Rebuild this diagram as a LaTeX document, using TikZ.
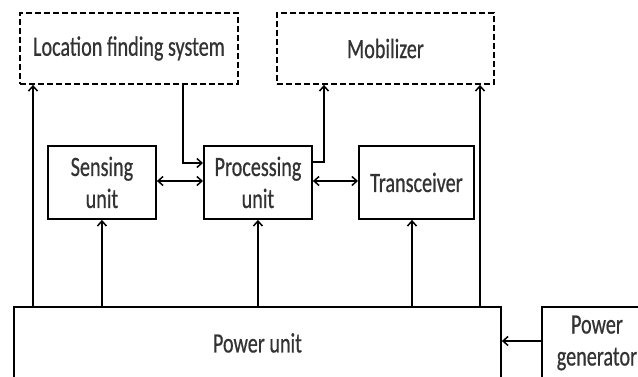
\documentclass[tikz,border=0pt]{standalone}
\usepackage{fontspec}
\newfontfamily\cf{Carlito}[FakeStretch=0.72,FakeBold=0.6]
\usetikzlibrary{arrows.meta}
\begin{document}
\begin{tikzpicture}[x=1pt,y=-1pt,
  lw/.style={line width=1.9pt},
  box/.style={draw,lw,rectangle,inner sep=0pt,anchor=north west,align=center,
     font=\cf\fontsize{28}{32}\selectfont,text=black!80},
  dbox/.style={box,dash pattern=on 6pt off 3pt},
  conn/.style={lw,-{Straight Barb[length=5pt,width=9pt,line width=1.5pt]}},
  bconn/.style={lw,{Straight Barb[length=5pt,width=9pt,line width=1.5pt]}-{Straight Barb[length=5pt,width=9pt,line width=1.5pt]}}]
\useasboundingbox (0,0) rectangle (638,376);
\clip (0,0) rectangle (638,376);
\node[dbox,minimum width=218pt,minimum height=71pt] (loc) at (19,12) {Location finding system};
\node[dbox,minimum width=217pt,minimum height=71pt] (mob) at (276,12) {Mobilizer};
\node[box,minimum width=108pt,minimum height=73pt] (sen) at (47,145) {Sensing\\unit};
\node[box,minimum width=108pt,minimum height=73pt] (pro) at (203,145) {Processing\\unit};
\node[box,minimum width=115pt,minimum height=73pt] (tra) at (358,145) {Transceiver};
\node[box,minimum width=487pt,minimum height=72pt] (pow) at (13,306) {Power unit};
\node[box,minimum width=110pt,minimum height=72pt] (gen) at (541,306) {Power\\generator};
\coordinate (c1) at (183,163);
\coordinate (c2) at (324,162);
\draw[conn] (pow.north west -| 33,0) -- (loc.south west -| 33,0);
\draw[conn] (pow.north -| sen.south) -- (sen.south);
\draw[conn] (pow.north -| pro.south) -- (pro.south);
\draw[conn] (pow.north -| 412,0) -- (tra.south -| 412,0);
\draw[conn] (pow.north -| 480,0) -- (mob.south -| 480,0);
\draw[conn] (loc.south -| c1) -- (c1) -- (c1 -| pro.west);
\draw[bconn] (sen.east |- 0,181) -- (pro.west |- 0,181);
\draw[bconn] (pro.east |- 0,181) -- (tra.west |- 0,181);
\draw[conn] (pro.east |- c2) -- (c2) -- (c2 |- mob.south);
\draw[conn] (gen.west |- 0,341) -- (pow.east |- 0,341);
\end{tikzpicture}
\end{document}
